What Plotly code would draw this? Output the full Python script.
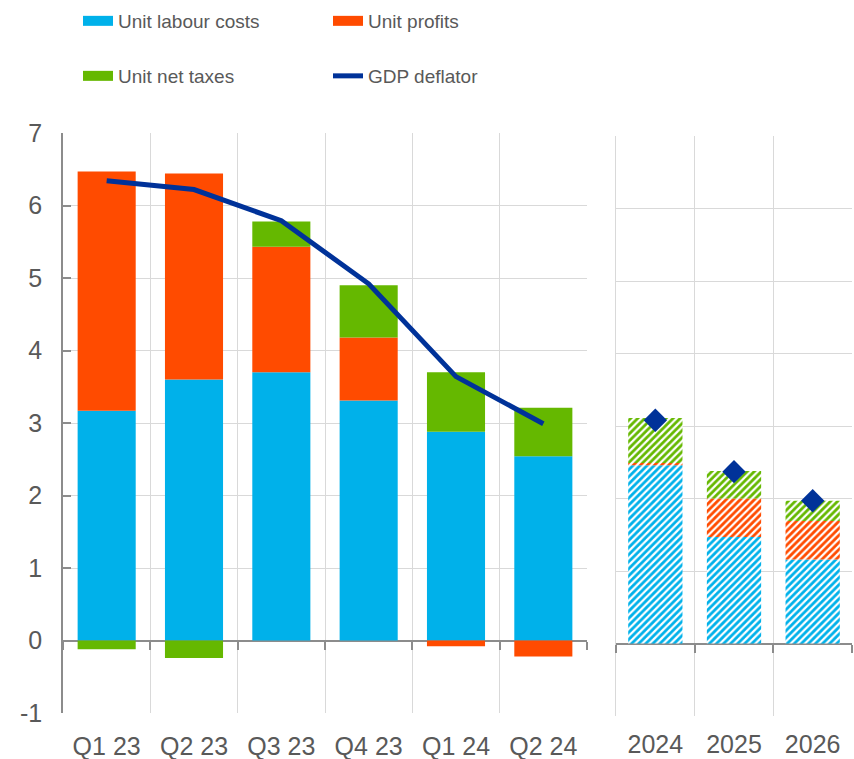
import plotly.graph_objects as go

# ---- data ----
quarters = ["Q1 23", "Q2 23", "Q3 23", "Q4 23", "Q1 24", "Q2 24"]
q_labour = [3.17, 3.60, 3.70, 3.31, 2.88, 2.54]
q_profits = [3.30, 2.84, 1.73, 0.87, -0.08, -0.22]
q_taxes = [-0.12, -0.24, 0.35, 0.72, 0.82, 0.67]
q_deflator = [6.34, 6.22, 5.79, 4.92, 3.64, 2.99]

years = ["2024", "2025", "2026"]
y_labour = [2.46, 1.47, 1.16]
y_profits = [0.03, 0.53, 0.53]
y_taxes = [0.62, 0.38, 0.28]
y_deflator = [3.08, 2.37, 1.97]

ytick_vals = [-1, 0, 1, 2, 3, 4, 5, 6, 7]
ytick_text = ["-1", "0", "1", "2", "3", "4", "5", "6", "7"]

C_LAB = "#00b1ea"
C_PRO = "#ff4b00"
C_TAX = "#65b800"
C_DEF = "#003299"
GRID = "#d9d9d9"
AXIS = "#8c8c8c"
TXT = "#595959"

fig = go.Figure()

# left panel bars
for vals, col, nm in [(q_labour, C_LAB, "Unit labour costs"),
                      (q_profits, C_PRO, "Unit profits"),
                      (q_taxes, C_TAX, "Unit net taxes")]:
    fig.add_trace(go.Bar(x=quarters, y=vals, marker=dict(color=col, line=dict(width=0)),
                         width=0.665, name=nm, showlegend=False,
                         xaxis="x", yaxis="y"))
fig.add_trace(go.Scatter(x=quarters, y=q_deflator, mode="lines",
                         line=dict(color=C_DEF, width=5), name="GDP deflator",
                         showlegend=False, xaxis="x", yaxis="y"))

# right panel hatched bars
for vals, col, nm in [(y_labour, C_LAB, "Unit labour costs"),
                      (y_profits, C_PRO, "Unit profits"),
                      (y_taxes, C_TAX, "Unit net taxes")]:
    fig.add_trace(go.Bar(x=years, y=vals,
                         marker=dict(color=col, line=dict(width=0),
                                     pattern=dict(shape="/", fgcolor=col, bgcolor="white",
                                                  fgopacity=1, size=5, solidity=0.55)),
                         width=0.69, name=nm, showlegend=False,
                         xaxis="x2", yaxis="y2"))
fig.add_trace(go.Scatter(x=years, y=y_deflator, mode="markers",
                         marker=dict(symbol="diamond", size=18, color=C_DEF),
                         name="GDP deflator", showlegend=False, xaxis="x2", yaxis="y2"))

# invisible traces so the zero-line tick axes are drawn
fig.add_trace(go.Scatter(x=[None], y=[None], xaxis="x3", yaxis="y", showlegend=False,
                         hoverinfo="skip"))
fig.add_trace(go.Scatter(x=[None], y=[None], xaxis="x4", yaxis="y2", showlegend=False,
                         hoverinfo="skip"))

# legend proxies
legend_items = [("Unit labour costs", C_LAB, 14, "legend"),
                ("Unit profits", C_PRO, 14, "legend2"),
                ("Unit net taxes", C_TAX, 14, "legend3"),
                ("GDP deflator", C_DEF, 5, "legend4")]
for nm, col, w, lg in legend_items:
    fig.add_trace(go.Scatter(x=[None], y=[None], mode="lines", name=nm,
                             line=dict(color=col, width=w), legend=lg,
                             xaxis="x", yaxis="y"))

legfont = dict(family="Liberation Sans, Arial", size=19, color=TXT)
col1 = 78 / 854
col2 = 328 / 854
row1 = 1 - 21 / 759
row2 = 1 - 76 / 759
for name, x, y in [("legend", col1, row1), ("legend2", col2, row1),
                   ("legend3", col1, row2), ("legend4", col2, row2)]:
    fig.layout[name] = dict(x=x, y=y, xanchor="left", yanchor="middle",
                            font=legfont, bgcolor="rgba(0,0,0,0)",
                            itemclick=False, itemdoubleclick=False)

tickfont = dict(family="Liberation Sans, Arial", size=25, color=TXT)

L_DOM = [46 / 759, 626 / 759]
R_DOM = [43 / 759, 623 / 759]
L_ZERO = L_DOM[0] + (L_DOM[1] - L_DOM[0]) / 8
R_ZERO = R_DOM[0] + (R_DOM[1] - R_DOM[0]) / 8

fig.update_layout(
    width=854, height=759,
    margin=dict(l=0, r=0, t=0, b=0, autoexpand=False),
    paper_bgcolor="white", plot_bgcolor="white",
    barmode="relative",
    xaxis=dict(domain=[63 / 854, 587 / 854], type="category", anchor="y",
               tickson="boundaries", showgrid=True, gridcolor=GRID, gridwidth=1,
               ticks="", tickfont=tickfont, showline=False, ticklabelstandoff=16,
               range=[-0.5, 5.5], automargin=False),
    xaxis3=dict(domain=[63 / 854, 587 / 854], overlaying="x", anchor="free",
                position=L_ZERO, range=[-0.5, 5.5],
                tickvals=[-0.5, 0.5, 1.5, 2.5, 3.5, 4.5, 5.5],
                ticks="outside", ticklen=8, tickcolor=AXIS, tickwidth=1.5,
                showticklabels=False, showgrid=False, zeroline=False, showline=False,
                automargin=False),
    yaxis=dict(domain=L_DOM, range=[-1, 7], anchor="x",
               tickvals=ytick_vals, ticktext=ytick_text,
               showgrid=True, gridcolor=GRID, zeroline=True, zerolinecolor=AXIS,
               zerolinewidth=1.5, showline=True, linecolor=AXIS, linewidth=1.5,
               ticks="inside", ticklen=8, tickcolor=AXIS, tickwidth=1.5,
               tickfont=tickfont, ticklabelstandoff=14, automargin=False),
    xaxis2=dict(domain=[616 / 854, 852 / 854], type="category", anchor="y2",
                tickson="boundaries", showgrid=True, gridcolor=GRID, gridwidth=1,
                ticks="", tickfont=tickfont, showline=False, ticklabelstandoff=11,
                range=[-0.5, 2.5], automargin=False),
    xaxis4=dict(domain=[616 / 854, 852 / 854], overlaying="x2", anchor="free",
                position=R_ZERO, range=[-0.5, 2.5],
                tickvals=[-0.5, 0.5, 1.5, 2.5],
                ticks="outside", ticklen=8, tickcolor=AXIS, tickwidth=1.5,
                showticklabels=False, showgrid=False, zeroline=False, showline=False,
                automargin=False),
    yaxis2=dict(domain=R_DOM, range=[-1, 7], dtick=1, anchor="x2",
                showgrid=True, gridcolor=GRID, zeroline=True, zerolinecolor=AXIS,
                zerolinewidth=1.5, showline=True, linecolor=GRID, linewidth=1,
                showticklabels=False, ticks="", automargin=False),
)

fig.write_html("out.html", config={"displayModeBar": False},
               post_script="document.body.style.margin='0';")
